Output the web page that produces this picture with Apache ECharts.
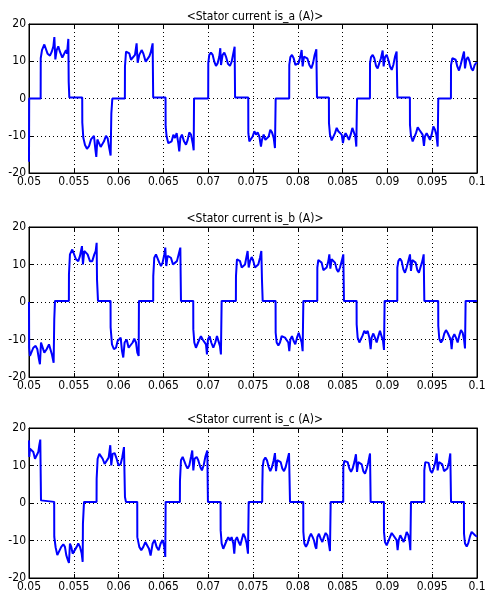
<!DOCTYPE html>
<html>
<head>
<meta charset="utf-8">
<script src="https://cdn.jsdelivr.net/npm/echarts@6/dist/echarts.min.js"></script>
<style>
html,body{margin:0;padding:0;background:#fff;}
#c{width:492px;height:603px;}
</style>
</head>
<body>
<div id="c"></div>
<script>
// time in ms (axis shows seconds), current in A
const titles = ['<Stator current is_a (A)>', '<Stator current is_b (A)>', '<Stator current is_c (A)>'];
const yTicks = [-20, -10, 0, 10, 20];

const isA = [
[50,-17],[50.02,0],[51.30,0],
[51.31,10.8],[51.45,13],[51.71,14.5],[51.90,14],[52.08,12],[52.34,11.5],[52.53,12.5],[52.72,14],[52.83,16.5],[52.94,10.5],[53.09,13],[53.27,14],[53.46,12.5],[53.72,11],[53.94,11.5],[54.13,13],[54.24,12],[54.39,16],[54.43,4.5],[54.50,0.3],
[55.94,0.3],[55.95,-6.5],[56.06,-10.5],[56.25,-12.5],[56.47,-13.5],[56.70,-12.8],[56.92,-11],[57.11,-11.5],[57.25,-10],[57.40,-13.5],[57.51,-15.7],[57.63,-11],[57.81,-10.5],[58.00,-13],[58.18,-13.3],[58.37,-11.5],[58.59,-10],[58.78,-10.7],[58.93,-13],[59.11,-15.3],[59.19,-4],[59.30,0],
[60.70,0],[60.71,8.6],[60.83,12.6],[61.01,13],[61.20,12.1],[61.38,10.4],[61.57,9.9],[61.83,11.7],[62.01,14.8],[62.13,9.6],[62.31,11.7],[62.57,13],[62.76,12.1],[63.02,9.9],[63.24,9.9],[63.43,11.3],[63.58,12.3],[63.80,14.8],[63.86,0.3],
[65.24,0.3],[65.25,-7.5],[65.36,-10.2],[65.55,-12],[65.73,-12.4],[65.92,-11.5],[66.11,-9.7],[66.29,-10.6],[66.48,-9.3],[66.66,-12],[66.77,-14.2],[66.89,-10.6],[67.07,-9.7],[67.30,-11.5],[67.52,-12.4],[67.71,-11.1],[67.89,-9.1],[68.08,-9.7],[68.27,-12],[68.38,-13.9],[68.42,0],
[70.00,0],[70.01,9.5],[70.12,11.7],[70.31,12.3],[70.50,11.7],[70.68,9.9],[70.87,8.75],[71.06,9.5],[71.24,11.25],[71.35,13.5],[71.43,9],[71.61,11.7],[71.80,12.3],[71.98,11.25],[72.21,9.3],[72.43,8.75],[72.62,9.9],[72.80,12.1],[72.95,13.9],[73.00,0.3],
[74.47,0.3],[74.48,-9.3],[74.59,-11.5],[74.78,-11.8],[74.96,-10.2],[75.15,-8.8],[75.34,-9.7],[75.52,-9.1],[75.71,-10.2],[75.89,-12.9],[76.00,-11.1],[76.19,-9.7],[76.38,-11.1],[76.56,-11.5],[76.75,-10.2],[76.93,-8.4],[77.12,-9.1],[77.31,-10.6],[77.45,-13.3],[77.53,0],
[79.04,0],[79.05,9],[79.17,11.1],[79.35,11.7],[79.54,10.8],[79.73,9],[79.91,8.6],[80.10,9.5],[80.28,11.25],[80.43,13],[80.54,8.6],[80.69,11.25],[80.88,11.7],[81.06,10.8],[81.29,9],[81.51,8.1],[81.70,9.5],[81.88,11.7],[82.07,13.2],[82.14,0.3],
[83.47,0.3],[83.48,-6.6],[83.59,-9.7],[83.78,-11.25],[83.97,-10.9],[84.15,-9.3],[84.34,-7.9],[84.52,-8.8],[84.71,-8.4],[84.90,-9.7],[85.04,-12],[85.16,-10.2],[85.34,-9.3],[85.53,-10.2],[85.71,-11.1],[85.90,-9.7],[86.09,-7.9],[86.27,-8.4],[86.42,-10.2],[86.53,-12.9],[86.61,0],
[88.05,0],[88.06,9.5],[88.17,11.1],[88.36,11.7],[88.54,10.8],[88.73,8.75],[88.91,8.1],[89.10,9.5],[89.28,10.8],[89.47,12.9],[89.58,8.6],[89.73,11.1],[89.92,11.7],[90.10,10.4],[90.29,8.6],[90.48,7.7],[90.66,9],[90.85,11.25],[91.03,12.6],[91.11,0.3],
[92.51,0.3],[92.52,-7.1],[92.63,-10],[92.82,-11.5],[93.00,-11.1],[93.19,-9.3],[93.38,-7.7],[93.56,-8.4],[93.75,-7.9],[93.93,-9.7],[94.08,-12.7],[94.19,-10.2],[94.38,-9.3],[94.57,-10.2],[94.75,-11.1],[94.94,-9.7],[95.13,-7.5],[95.31,-8.4],[95.46,-9.7],[95.61,-12.9],[95.68,0],
[97.09,0],[97.10,9],[97.25,10.8],[97.43,11.25],[97.62,10.4],[97.80,8.6],[97.99,7.5],[98.17,9],[98.36,10.8],[98.55,12.6],[98.66,8.1],[98.81,10.5],[98.99,11.1],[99.18,9.9],[99.37,8.1],[99.55,7.5],[99.74,9],[99.92,9.6],[100,9.4]
];

const isB = [
[50,0],[50.02,-12.2],[50.11,-14.4],[50.30,-14],[50.48,-12.2],[50.74,-11.7],[50.93,-12.6],[51.11,-15.3],[51.22,-16.6],[51.34,-10.8],[51.48,-10.8],[51.71,-13.5],[51.97,-12.6],[52.23,-11.3],[52.41,-11.7],[52.56,-14],[52.75,-16.2],[52.82,-4.6],[52.90,0.3],
[54.45,0.3],[54.46,7.4],[54.57,12.7],[54.83,14],[55.02,13.6],[55.24,11.4],[55.50,10.9],[55.69,12.3],[55.91,14.9],[56.02,10],[56.17,13.6],[56.36,14],[56.54,12.7],[56.80,10.9],[57.06,10.9],[57.29,12.7],[57.44,13.6],[57.55,15.8],[57.59,6],[57.70,0.3],
[59.10,0.3],[59.11,-6.8],[59.26,-11.3],[59.48,-12.6],[59.71,-12.2],[59.89,-10.4],[60.08,-10.8],[60.23,-9.5],[60.38,-13.1],[60.52,-14.8],[60.67,-10.8],[60.90,-10],[61.12,-12.2],[61.34,-12.6],[61.57,-10.8],[61.75,-9.8],[61.94,-10.8],[62.09,-13.5],[62.24,-14.4],[62.27,0.3],
[63.86,0.3],[63.87,6.9],[63.98,11.8],[64.17,12.7],[64.36,12.3],[64.54,10.5],[64.73,9.6],[64.91,10.5],[65.10,12.7],[65.21,14.5],[65.32,9.6],[65.47,12.3],[65.66,12.7],[65.84,11.8],[66.07,10],[66.29,9.6],[66.51,10.9],[66.70,12.7],[66.89,14.5],[66.96,0.3],
[68.33,0.3],[68.34,-7.3],[68.45,-10.8],[68.63,-12.2],[68.82,-11.7],[69.01,-10],[69.19,-9.1],[69.38,-10],[69.56,-9.5],[69.75,-11.3],[69.86,-14],[69.97,-10],[70.16,-9.1],[70.34,-10.8],[70.57,-12.2],[70.79,-10.8],[70.98,-9.1],[71.16,-9.5],[71.31,-11.7],[71.42,-14],[71.50,0.3],
[73.09,0.3],[73.10,6.9],[73.21,11.4],[73.40,11.8],[73.55,10.9],[73.74,9.2],[73.92,8.7],[74.11,10],[74.29,12.3],[74.40,13.6],[74.52,9.2],[74.67,10.9],[74.85,12],[75.04,10.9],[75.22,9.2],[75.41,8.7],[75.59,10],[75.78,11.8],[75.93,13.6],[76.00,6],[76.08,0.3],
[77.52,0.3],[77.53,-8.2],[77.64,-10.8],[77.83,-11.6],[78.01,-10.8],[78.20,-9.1],[78.39,-8.6],[78.57,-9.5],[78.76,-9.1],[78.94,-10.8],[79.05,-13.1],[79.17,-10],[79.35,-9.1],[79.54,-10.4],[79.72,-11.3],[79.91,-9.5],[80.10,-8.2],[80.28,-8.6],[80.43,-10.8],[80.54,-13.1],[80.62,0.3],
[82.17,0.3],[82.18,9.2],[82.29,11.2],[82.48,11.6],[82.66,10.5],[82.85,8.5],[83.03,8],[83.22,9.2],[83.41,10.9],[83.52,12.7],[83.63,8.9],[83.78,11.4],[83.97,11.8],[84.15,10.5],[84.34,8.7],[84.52,8],[84.71,9.2],[84.90,10.9],[85.08,12.7],[85.15,0.3],
[86.56,0.3],[86.57,-6],[86.68,-9.5],[86.87,-10.8],[87.05,-10.4],[87.24,-8.9],[87.42,-7.7],[87.61,-8.4],[87.80,-7.7],[87.98,-9.5],[88.13,-12.6],[88.24,-9.5],[88.43,-8.4],[88.61,-9.5],[88.80,-10.8],[88.99,-9.1],[89.17,-7.7],[89.36,-8.2],[89.51,-10.4],[89.62,-12.8],[89.69,0.3],
[91.10,0.3],[91.11,9.2],[91.22,10.9],[91.40,11.6],[91.59,10.9],[91.78,8.7],[91.96,7.8],[92.15,9.2],[92.33,10.9],[92.52,12.7],[92.63,8.3],[92.78,11.2],[92.97,11.6],[93.15,10.5],[93.34,8.5],[93.52,7.8],[93.71,9.4],[93.90,10.9],[94.05,12.7],[94.12,0.3],
[95.67,0.3],[95.68,-6.4],[95.79,-9.8],[95.98,-10.8],[96.17,-10.1],[96.35,-8.4],[96.54,-7.5],[96.72,-8.2],[96.91,-8.4],[97.06,-10],[97.17,-12.6],[97.28,-9.5],[97.47,-8.6],[97.65,-9.5],[97.84,-10.8],[98.03,-8.9],[98.21,-7.5],[98.40,-8.2],[98.55,-10],[98.66,-12.4],[98.73,0.3],
[100,0.3]
];

const isC = [
[50,16.7],[50.03,12.3],[50.11,14.5],[50.30,14.7],[50.48,13.6],[50.67,11.8],[50.85,11.8],[51.04,13.6],[51.15,15.4],[51.26,16.9],[51.34,0.7],[51.41,0.3],
[52.81,0.3],[52.82,-9],[52.97,-11.8],[53.16,-13.9],[53.38,-13.5],[53.60,-11.7],[53.83,-11],[54.01,-11.7],[54.16,-13.9],[54.35,-15.3],[54.46,-16],[54.57,-10.8],[54.72,-11.7],[54.87,-13.5],[55.09,-13.5],[55.32,-11.7],[55.50,-10.8],[55.69,-11.7],[55.88,-13.5],[55.99,-15.7],[56.02,-5.5],[56.14,0.3],
[57.54,0.3],[57.55,6.5],[57.66,11.8],[57.85,13.1],[58.03,13.1],[58.22,11.8],[58.44,10.4],[58.66,10.4],[58.89,12.1],[59.07,15.4],[59.18,10],[59.33,13.1],[59.56,13.3],[59.78,11.8],[60.00,10],[60.23,10.4],[60.41,12.2],[60.60,14.9],[60.71,1.6],[60.82,0.3],
[62.08,0.3],[62.09,-9.1],[62.31,-11.7],[62.53,-12.6],[62.76,-11.7],[62.98,-10.4],[63.20,-10.8],[63.39,-12.2],[63.57,-14],[63.69,-14.4],[63.80,-10.8],[64.02,-9.9],[64.24,-11.7],[64.47,-12.6],[64.69,-10.8],[64.91,-9.9],[65.10,-11.7],[65.21,-14.4],[65.25,0.3],
[66.84,0.3],[66.85,6],[66.96,11.4],[67.15,12.3],[67.33,11.8],[67.52,10],[67.70,9.2],[67.89,10],[68.08,12.3],[68.22,14],[68.34,8.7],[68.48,11.8],[68.71,12.3],[68.89,11.4],[69.12,9.6],[69.30,8.7],[69.49,10],[69.68,12.3],[69.90,14],[69.97,0.3],
[71.38,0.3],[71.39,-7.3],[71.50,-10.8],[71.68,-12.2],[71.87,-11.7],[72.06,-10],[72.24,-9.1],[72.43,-10],[72.61,-9.1],[72.80,-10.8],[72.91,-13.5],[73.02,-10],[73.21,-9.1],[73.40,-10.4],[73.58,-11.3],[73.92,-8.2],[74.11,-9.1],[74.29,-10.8],[74.44,-13.5],[74.52,0.3],
[76.03,0.3],[76.04,4.3],[76.08,9.6],[76.19,11.4],[76.38,12.1],[76.56,11.4],[76.75,9.6],[76.93,8.5],[77.12,9.6],[77.31,11.4],[77.45,13.3],[77.57,8.5],[77.71,11.4],[77.90,11.8],[78.09,10.9],[78.27,9.2],[78.46,8.5],[78.65,9.6],[78.83,11.4],[79.02,13.3],[79.13,0.3],
[80.61,0.3],[80.62,-7.7],[80.73,-10.8],[80.91,-11.7],[81.10,-10.8],[81.29,-9.1],[81.47,-8.2],[81.66,-9.1],[81.81,-10],[81.96,-11.6],[82.07,-12.2],[82.18,-9.1],[82.36,-8.2],[82.55,-9.5],[82.74,-10.4],[82.92,-9.1],[83.11,-8],[83.30,-8.6],[83.44,-10.4],[83.59,-12.8],[83.67,0.3],
[85.07,0.3],[85.08,9.6],[85.19,11.2],[85.38,11.6],[85.56,10.9],[85.75,9.2],[85.94,8.3],[86.12,9.2],[86.31,10.9],[86.49,13],[86.61,8.3],[86.75,10.9],[86.94,11.4],[87.13,10.3],[87.31,8.5],[87.50,7.8],[87.69,9.2],[87.87,10.9],[88.06,13.2],[88.13,0.3],
[89.61,0.3],[89.62,-7.7],[89.73,-10.4],[89.92,-11.3],[90.10,-10.8],[90.29,-9.1],[90.48,-8],[90.66,-8.6],[90.85,-8.2],[91.03,-9.9],[91.14,-12.6],[91.26,-9.9],[91.44,-8.6],[91.63,-9.5],[91.81,-10.4],[92.00,-9.1],[92.15,-7.7],[92.34,-8.6],[92.48,-10.4],[92.56,-12.6],[92.63,0.3],
[94.11,0.3],[94.12,8.7],[94.23,10.9],[94.42,11.4],[94.60,10.7],[94.79,8.7],[94.98,8],[95.16,9.2],[95.35,10.9],[95.50,13.2],[95.61,8.7],[95.76,10.9],[95.94,11.4],[96.13,10.3],[96.32,8.5],[96.50,8],[96.69,9.2],[96.87,10.9],[97.02,13.2],[97.10,0.3],
[98.54,0.3],[98.55,-8.2],[98.66,-10.8],[98.85,-11.6],[99.03,-10.7],[99.22,-8.9],[99.40,-7.7],[99.59,-8.2],[99.78,-8.6],[100,-9]
];

const phases = [isA, isB, isC];
const FONT = '"Liberation Sans Narrow", "DejaVu Sans Condensed", "Liberation Sans", sans-serif';

const gridTops = [24, 227, 428];
const gridH = [149, 150, 150];
const titleTops = [6, 208, 409];

const grids = [], xAxes = [], yAxes = [], series = [], tt = [];
const dotted = { show: true, lineStyle: { color: '#000', width: 1, type: [1, 3] } };
const tick = { show: true, inside: true, length: 4, lineStyle: { color: '#000' } };
phases.forEach((d, i) => {
  grids.push({ left: 29, right: 15, top: gridTops[i], height: gridH[i], show: true, borderColor: '#000', borderWidth: 1, backgroundColor: '#fff' });
  xAxes.push({
    type: 'value', gridIndex: i, min: 50, max: 100, interval: 5, position: 'bottom',
    axisLine: { show: true, onZero: false, lineStyle: { color: '#000', width: 1 } },
    axisTick: tick,
    axisLabel: { color: '#000', fontFamily: FONT, fontSize: 12, margin: 3, showMinLabel: true, showMaxLabel: true,
      formatter: v => String(v / 1000) },
    splitLine: dotted
  });
  xAxes.push({
    type: 'value', gridIndex: i, min: 50, max: 100, interval: 5, position: 'top',
    axisLine: { show: true, onZero: false, lineStyle: { color: '#000' } },
    axisTick: tick,
    axisLabel: { show: false }, splitLine: { show: false }
  });
  yAxes.push({
    type: 'value', gridIndex: i, min: yTicks[0], max: yTicks[yTicks.length - 1], interval: 10, position: 'left',
    axisLine: { show: true, onZero: false, lineStyle: { color: '#000', width: 1 } },
    axisTick: tick,
    axisLabel: { color: '#000', fontFamily: FONT, fontSize: 12, margin: 3 },
    splitLine: dotted
  });
  yAxes.push({
    type: 'value', gridIndex: i, min: -20, max: 20, interval: 10, position: 'right',
    axisLine: { show: true, onZero: false, lineStyle: { color: '#000' } },
    axisTick: tick,
    axisLabel: { show: false }, splitLine: { show: false }
  });
  series.push({
    type: 'line', xAxisIndex: 2 * i, yAxisIndex: 2 * i, data: d,
    showSymbol: false, symbol: 'none', clip: true,
    lineStyle: { color: '#0000ff', width: 2 }, z: 5
  });
  tt.push({ text: titles[i], left: 250, top: titleTops[i], textAlign: 'center',
    textStyle: { color: '#000', fontFamily: FONT, fontSize: 12, fontWeight: 'normal' } });
});

const chart = echarts.init(document.getElementById('c'), null, { renderer: 'canvas' });
chart.setOption({
  backgroundColor: '#fff',
  animation: false,
  title: tt,
  grid: grids,
  xAxis: xAxes,
  yAxis: yAxes,
  series: series
});
</script>
</body>
</html>
